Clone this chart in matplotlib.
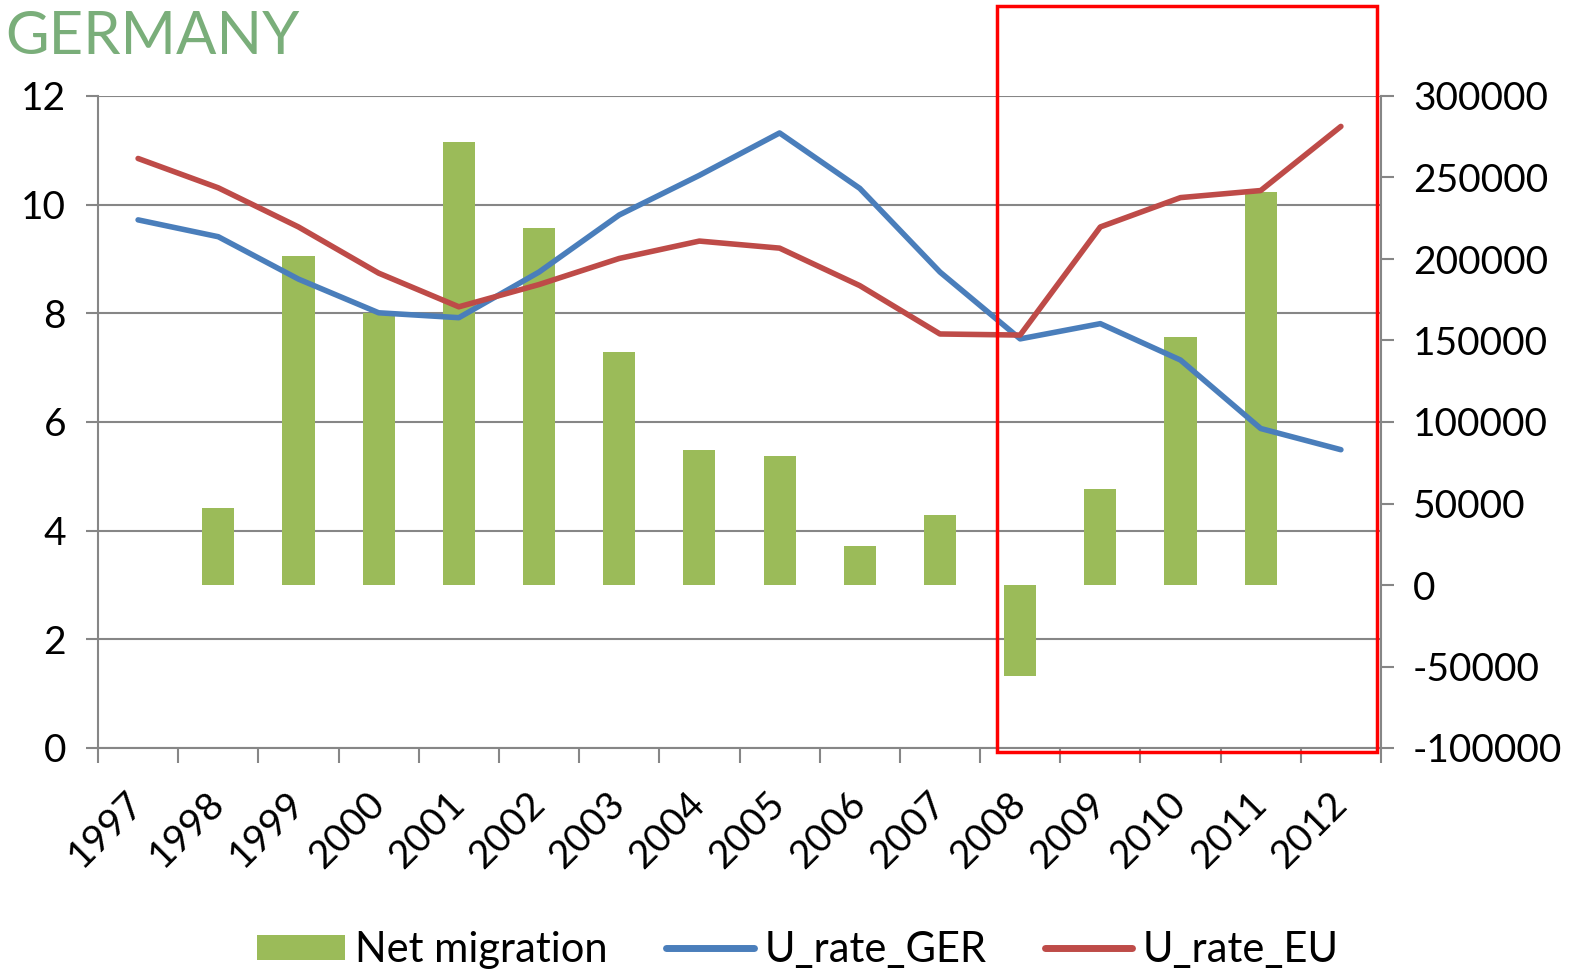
import matplotlib
matplotlib.use("Agg")
import matplotlib.pyplot as plt
from matplotlib.patches import Rectangle, Patch
from matplotlib.lines import Line2D
import numpy as np

years = ["1997", "1998", "1999", "2000", "2001", "2002", "2003", "2004",
         "2005", "2006", "2007", "2008", "2009", "2010", "2011", "2012"]
net_migration = [0, 47000, 202000, 167000, 272000, 219000, 143000, 83000,
                 79000, 24000, 43000, -56000, 59000, 152000, 241000, 0]
u_rate_ger = [9.72, 9.41, 8.63, 8.01, 7.92, 8.76, 9.81, 10.54,
              11.32, 10.30, 8.76, 7.53, 7.81, 7.14, 5.88, 5.49]
u_rate_eu = [10.85, 10.31, 9.59, 8.74, 8.12, 8.53, 9.01, 9.33,
             9.20, 8.51, 7.62, 7.60, 9.59, 10.13, 10.26, 11.44]
left_ticks = [0, 2, 4, 6, 8, 10, 12]
right_ticks = [-100000, -50000, 0, 50000, 100000, 150000, 200000, 250000, 300000]

FONT = "Lato"
plt.rcParams['font.family'] = [FONT, 'DejaVu Sans']

W, H = 1580, 973
fig = plt.figure(figsize=(W / 100, H / 100), dpi=100)

L, R, T, B = 98 / W, 1381 / W, 96 / H, 748 / H
ax = fig.add_axes([L, 1 - B, R - L, B - T])
ax2 = ax.twinx()
ax3 = ax.twinx()

GRAY = "#868686"
x = np.arange(len(years))

# grid on base axes
ax.set_ylim(0, 12)
ax.set_yticks(left_ticks)
ax.set_yticklabels([str(v) for v in left_ticks])
ax.grid(axis='y', color=GRAY, linewidth=1.5)
ax.set_axisbelow(True)
ax.set_xlim(-0.5, len(years) - 0.5)
ax.set_xticks(np.arange(-0.5, len(years), 1.0))
ax.set_xticklabels([])
ax.set_xticks(x, minor=True)
ax.set_xticklabels(years, minor=True, rotation=45, ha='right', va='center',
                   rotation_mode='anchor', fontsize=28)
ax.tick_params(axis='x', which='minor', length=0, pad=36)
ax.tick_params(axis='x', which='major', length=11, width=1.5, color=GRAY, direction='out')
ax.tick_params(axis='y', length=9, width=1.5, color=GRAY, direction='out', labelsize=28, pad=14)
for s in ['top', 'right']:
    ax.spines[s].set_visible(False)
for s in ['left', 'bottom']:
    ax.spines[s].set_color(GRAY)
    ax.spines[s].set_linewidth(1.5)

# bars on right axis
ax2.bar(x, net_migration, width=0.4, color="#9bbb59", zorder=2)
ax2.set_ylim(-100000, 300000)
ax2.set_yticks(right_ticks)
ax2.set_yticklabels([str(v) for v in right_ticks])
ax2.tick_params(axis='y', length=9, width=1.5, color=GRAY, direction='out', labelsize=28, pad=14)
for s in ['top', 'left', 'bottom']:
    ax2.spines[s].set_visible(False)
ax2.spines['right'].set_color(GRAY)
ax2.spines['right'].set_linewidth(1.5)

# lines on top
ax3.set_ylim(0, 12)
ax3.plot(x, u_rate_ger, color="#4a7ebb", linewidth=4, solid_capstyle='round')
ax3.plot(x, u_rate_eu, color="#be4b48", linewidth=4, solid_capstyle='round')
ax3.set_yticks([])
for s in ax3.spines.values():
    s.set_visible(False)

# title
fig.text(5 / W, 1 - 37 / H, "GERMANY", fontsize=43, color="#7aae7a",
         fontweight='normal', va='center', ha='left')

# legend
handles = [Patch(facecolor="#9bbb59", edgecolor='none'),
           Line2D([], [], color="#4a7ebb", linewidth=5, solid_capstyle='round'),
           Line2D([], [], color="#be4b48", linewidth=5, solid_capstyle='round')]
fig.legend(handles, ["Net migration", "U_rate_GER", "U_rate_EU"], loc='center',
           bbox_to_anchor=(0.505, 1 - 950 / H), ncol=3, frameon=False, fontsize=30,
           handlelength=2.1, handleheight=0.55, handletextpad=0.25, columnspacing=1.4)

# red highlight box
fig.patches.append(Rectangle((997 / W, 1 - 752 / H), (1377 - 997) / W, (752 - 6) / H,
                             transform=fig.transFigure, fill=False, edgecolor="#ff0000",
                             linewidth=2.5, zorder=10))

fig.savefig("out.png", dpi=100)
